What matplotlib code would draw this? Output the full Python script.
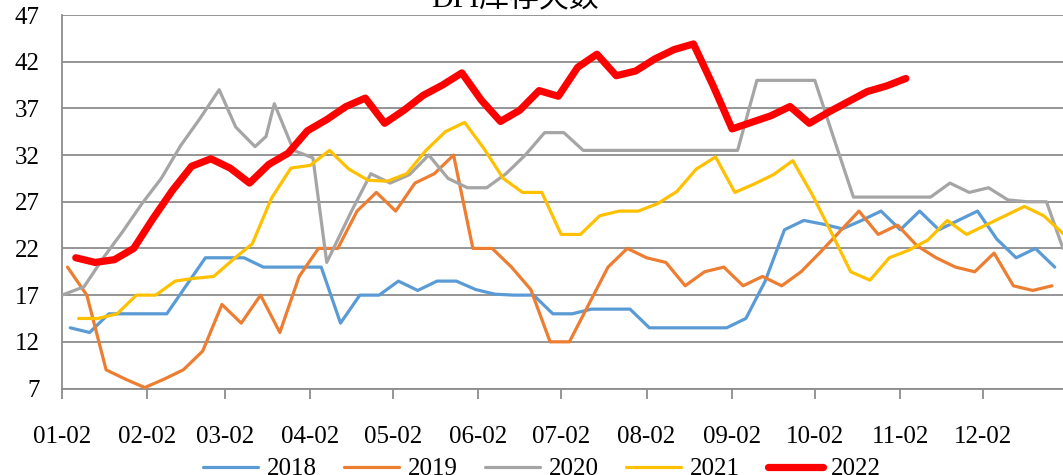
import matplotlib
matplotlib.use("Agg")
import matplotlib.pyplot as plt
import pandas as pd

plt.rcParams["font.family"] = ["Liberation Serif", "Noto Sans CJK SC"]

title = "DPI库存天数"
years = ["2018", "2019", "2020", "2021", "2022"]
colors = ["#5B9BD5", "#ED7D31", "#A5A5A5", "#FFC000", "#FF0000"]

# weekly inventory days; each year starts on its first reporting date
start_2018 = "2018-01-05"
stock_2018 = [13.5, 13.0, 15.0, 15.0, 15.0, 15.0, 18.0, 21.0, 21.0, 21.0,
              20.0, 20.0, 20.0, 20.0, 14.0, 17.0, 17.0, 18.5, 17.5, 18.5,
              18.5, 17.6, 17.1, 17.0, 17.0, 15.0, 15.0, 15.5, 15.5, 15.5,
              13.5, 13.5, 13.5, 13.5, 13.5, 14.5, 18.5, 24.0, 25.0, 24.6,
              24.1, 25.0, 26.0, 24.0, 26.0, 24.0, 25.0, 26.0, 23.0, 21.0,
              22.0, 20.0]

start_2019 = "2019-01-04"
stock_2019 = [20.0, 17.0, 9.0, 8.0, 7.1, 8.0, 9.0, 11.0, 16.0, 14.0,
              17.0, 13.0, 19.0, 22.0, 22.0, 26.0, 28.0, 26.0, 29.0, 30.0,
              32.0, 22.0, 22.0, 20.0, 17.6, 12.0, 12.0, 16.0, 20.0, 22.0,
              21.0, 20.5, 18.0, 19.5, 20.0, 18.0, 19.0, 18.0, 19.5, 21.6,
              23.8, 26.0, 23.5, 24.5, 22.3, 21.0, 20.0, 19.5, 21.5, 18.0,
              17.5, 18.0]

# 2020 reporting dates were irregular around March/April
dates_2020 = ["01-02", "01-10", "01-17", "01-24", "01-31", "02-07", "02-14",
              "02-21", "02-28", "03-06", "03-13", "03-17", "03-20", "03-27",
              "04-03", "04-08", "04-17", "04-24", "05-01", "05-08", "05-15",
              "05-22", "05-29", "06-05", "06-12", "06-19", "06-26", "07-03",
              "07-10", "07-17", "07-24", "07-31", "08-07", "08-14", "08-21",
              "08-28", "09-04", "09-11", "09-18", "09-25", "10-02", "10-09",
              "10-16", "10-23", "10-30", "11-06", "11-13", "11-20", "11-27",
              "12-04", "12-11", "12-18", "12-25", "12-31"]
stock_2020 = [17.0, 17.9, 21.0, 23.8, 26.8, 29.5, 33.0, 35.9, 39.0, 35.0,
              32.9, 34.0, 37.5, 32.5, 31.7, 20.5, 26.0, 30.0, 29.0, 29.9,
              32.0, 29.5, 28.5, 28.5, 30.0, 32.0, 34.4, 34.4, 32.5, 32.5,
              32.5, 32.5, 32.5, 32.5, 32.5, 32.5, 32.5, 40.0, 40.0, 40.0,
              40.0, 33.7, 27.5, 27.5, 27.5, 27.5, 27.5, 29.0, 28.0, 28.5,
              27.2, 27.0, 27.0, 22.0]

start_2021 = "2021-01-08"
stock_2021 = [14.5, 14.5, 15.0, 17.0, 17.0, 18.5, 18.8, 19.0, 20.8, 22.5,
              27.4, 30.6, 30.9, 32.5, 30.5, 29.3, 29.2, 30.0, 32.5, 34.5,
              35.5, 32.7, 29.5, 28.0, 28.0, 23.5, 23.5, 25.5, 26.0, 26.0,
              26.8, 28.1, 30.5, 31.8, 28.0, 28.9, 29.9, 31.4, 27.8, 23.7,
              19.5, 18.6, 21.0, 21.8, 22.9, 25.0, 23.5, 24.5, 25.5, 26.5,
              25.5, 23.6]

start_2022 = "2022-01-07"
stock_2022 = [21.0, 20.5, 20.8, 22.0, 25.2, 28.2, 30.8, 31.6, 30.6, 29.0,
              31.0, 32.2, 34.6, 35.8, 37.2, 38.1, 35.4, 36.8, 38.4, 39.5,
              40.8, 37.9, 35.6, 36.8, 38.9, 38.3, 41.4, 42.8, 40.5, 41.0,
              42.3, 43.3, 43.9, 39.5, 34.8, 35.5, 36.2, 37.2, 35.4, 36.6,
              37.7, 38.8, 39.4, 40.2]

tick_labels = ["01-02", "02-02", "03-02", "04-02", "05-02", "06-02",
               "07-02", "08-02", "09-02", "10-02", "11-02", "12-02"]


def on_common_year(dates):
    """Place dates of any year on one shared calendar year."""
    return [pd.Timestamp(2001, d.month, d.day) for d in dates]


def weekly(start, n):
    return on_common_year(pd.date_range(start, periods=n, freq="7D"))


series = [
    (weekly(start_2018, len(stock_2018)), stock_2018),
    (weekly(start_2019, len(stock_2019)), stock_2019),
    (on_common_year(pd.to_datetime(["2020-" + s for s in dates_2020])), stock_2020),
    (weekly(start_2021, len(stock_2021)), stock_2021),
    (weekly(start_2022, len(stock_2022)), stock_2022),
]
widths = [2.3, 2.3, 2.3, 2.3, 5.2]

W, H, DPI = 1063, 475, 100
fig = plt.figure(figsize=(W / DPI, H / DPI), dpi=DPI)
ax = fig.add_axes([62 / W, 1 - 388.5 / H, (1063 - 62) / W, (388.5 - 15) / H])

grid_color = "#8C8C8C"
handles = []
for i, ((x, y), name, c, lw) in enumerate(zip(series, years, colors, widths)):
    h, = ax.plot(x, y, color=c, lw=lw, solid_capstyle="round",
                 solid_joinstyle="round", label=name, zorder=3 + i)
    handles.append(h)

ax.set_ylim(7, 47)
ax.set_yticks(range(7, 48, 5))
ax.set_xlim(pd.Timestamp(2001, 1, 2), pd.Timestamp(2001, 12, 31))
ax.set_xticks([pd.Timestamp(2001, m, 2) for m in range(1, 13)])
ax.set_xticklabels(tick_labels)

ax.yaxis.grid(True, color=grid_color, lw=1.3)
ax.set_axisbelow(True)
for s in ("top", "right"):
    ax.spines[s].set_visible(False)
for s in ("left", "bottom"):
    ax.spines[s].set_color(grid_color)
    ax.spines[s].set_linewidth(1.3)

ax.tick_params(axis="y", length=0, pad=16, labelsize=18, colors="black")
ax.tick_params(axis="x", length=7, width=1.3, color=grid_color, direction="out",
               pad=20, labelsize=18)

fig.text(515 / W, 1 - 6 / H, title, ha="center", va="baseline", fontsize=21.5)

fig.legend(handles=handles, labels=years, loc="center",
           bbox_to_anchor=(542 / W, 1 - 469 / H), ncol=5, frameon=False,
           fontsize=18, handlelength=2.2, handletextpad=0.35,
           columnspacing=1.1, borderpad=0)

fig.savefig("out.png", dpi=DPI)
